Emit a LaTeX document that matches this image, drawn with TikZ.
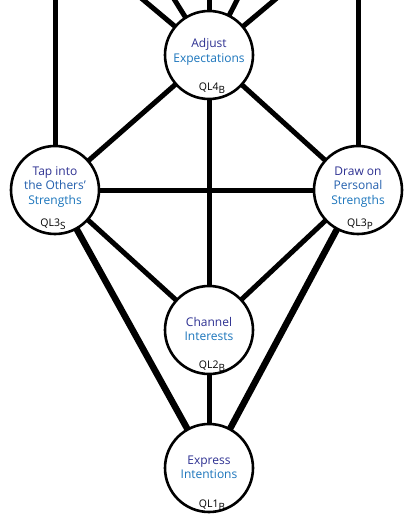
\documentclass[tikz,border=0pt]{standalone}
\usepackage{fontspec}
\setmainfont{Open Sans}
\usetikzlibrary{calc}
\definecolor{tA}{HTML}{2E3192}
\definecolor{tB}{HTML}{2460AE}
\definecolor{tC}{HTML}{1B75BC}
\tikzset{
  qnode/.style={circle, draw=black, line width=2.6pt, fill=white, minimum size=88pt, inner sep=0pt},
  link/.style={line width=5pt},
  heavy/.style={line width=6.5pt},
  ttl/.style={align=center, font=\fontsize{12}{14.3}\selectfont, inner sep=0pt},
  ql/.style={font=\fontsize{10.5}{12}\selectfont, inner sep=0pt}
}
\newcommand{\qsub}[2]{#1\raisebox{-0.45ex}{\fontsize{10}{11}\selectfont #2}}
\begin{document}
\begin{tikzpicture}[x=1pt,y=-1pt]
\clip (0,0) rectangle (412,524);
\coordinate (adjP) at (209,55);
\coordinate (tapP) at (55,190);
\coordinate (drwP) at (358,190);
\coordinate (chnP) at (209,330);
\coordinate (expP) at (209,468);
% free ends at top
\coordinate (tapTop) at (55,-10);
\coordinate (drwTop) at (358,-10);
% connectors
\draw[link] (tapP) -- (tapTop);
\draw[link] (drwP) -- (drwTop);
\foreach \a/\n in {140/a1,122/a2,90/a3,63/a4,40/a5}{
  \coordinate (\n) at ($(adjP)+({cos(\a)*100},{-sin(\a)*100})$);
  \draw[link] (adjP) -- (\n);
}
\draw[link] (adjP) -- (tapP);
\draw[link] (adjP) -- (drwP);
\draw[link] (adjP) -- (chnP);
\draw[link] (tapP) -- (drwP);
\draw[link] (tapP) -- (chnP);
\draw[link] (drwP) -- (chnP);
\draw[heavy] (tapP) -- (expP);
\draw[heavy] (drwP) -- (expP);
\draw[link] (chnP) -- (expP);
% circles
\node[qnode] (adj) at (adjP) {};
\node[qnode] (tap) at (tapP) {};
\node[qnode] (drw) at (drwP) {};
\node[qnode] (chn) at (chnP) {};
\node[qnode] (exp) at (expP) {};
% titles
\node[ttl] (adjT) at ($(adj.center)+(0,-3)$) {\textcolor{tA}{Adjust}\\\textcolor{tC}{Expectations}};
\node[ttl] (tapT) at ($(tap.center)+(0,-3)$) {\textcolor{tA}{Tap into}\\\textcolor{tB}{the Others’}\\\textcolor{tC}{Strengths}};
\node[ttl] (drwT) at ($(drw.center)+(0,-3)$) {\textcolor{tA}{Draw on}\\\textcolor{tB}{Personal}\\\textcolor{tC}{Strengths}};
\node[ttl] (chnT) at ($(chn.center)+(0,-1)$) {\textcolor{tA}{Channel}\\\textcolor{tC}{Interests}};
\node[ttl] (expT) at ($(exp.center)+(0,-1)$) {\textcolor{tA}{Express}\\\textcolor{tC}{Intentions}};
% QL labels
\node[ql] (adjQ) at ($(adj.center)+(3,33)$) {\qsub{QL4}{B}};
\node[ql] (tapQ) at ($(tap.center)+(-2,34)$) {\qsub{QL3}{S}};
\node[ql] (drwQ) at ($(drw.center)+(2,34)$) {\qsub{QL3}{P}};
\node[ql] (chnQ) at ($(chn.center)+(3,36)$) {\qsub{QL2}{B}};
\node[ql] (expQ) at ($(exp.center)+(3,37)$) {\qsub{QL1}{B}};
\end{tikzpicture}
\end{document}
